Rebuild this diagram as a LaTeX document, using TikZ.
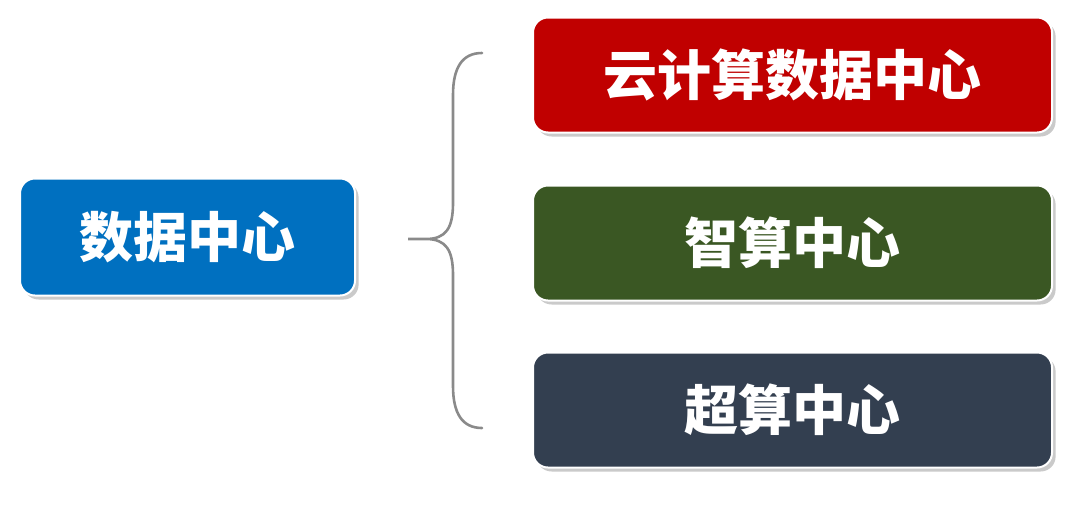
\documentclass[tikz,border=0pt]{standalone}
\usepackage{fontspec}
\newfontfamily\cjk{Noto Sans CJK SC}
\usetikzlibrary{shadows}
\definecolor{dcblue}{HTML}{0070C0}
\definecolor{dcred}{HTML}{C00000}
\definecolor{dcgreen}{HTML}{3A5723}
\definecolor{dcslate}{HTML}{333F50}
\definecolor{bracegray}{HTML}{8A8A8A}
\tikzset{
  box/.style={draw=white, line width=1pt, rounded corners=7.5pt,
    text=white, font=\cjk\bfseries\fontsize{27}{30}\selectfont,
    inner sep=0pt,
    drop shadow={shadow xshift=1.8pt, shadow yshift=-2pt, opacity=0.35, fill=black!60}},
  leftbox/.style={box, fill=dcblue, minimum width=167.5pt, minimum height=58.5pt},
  rightbox/.style={box, minimum width=259.5pt, minimum height=57.5pt},
  bracket/.style={draw=bracegray, line width=1.3pt, line cap=round}
}
\begin{document}
\begin{tikzpicture}[x=0.5pt, y=-0.5pt]
      \useasboundingbox (0,0) rectangle (1080,504);
      \node[leftbox] (dc) at (187.5,237) {数据中心};
      \node[rightbox, fill=dcred] (cloud) at (792.5,75) {云计算数据中心};
      \node[rightbox, fill=dcgreen] (ai) at (792.5,243) {智算中心};
      \node[rightbox, fill=dcslate] (hpc) at (792.5,410) {超算中心};
      % brace
      \coordinate (tip) at (408,239);
      \coordinate (top) at (482,53);
      \coordinate (bot) at (482,428);
      \draw[bracket] (top) .. controls (462,53) and (453,68) .. (453,95)
        -- (453,203) .. controls (453,228) and (446,239) .. (426,239) -- (tip)
        -- (426,239) .. controls (446,239) and (453,250) .. (453,275)
        -- (453,386) .. controls (453,413) and (462,428) .. (bot);
    \end{tikzpicture}
\end{document}
